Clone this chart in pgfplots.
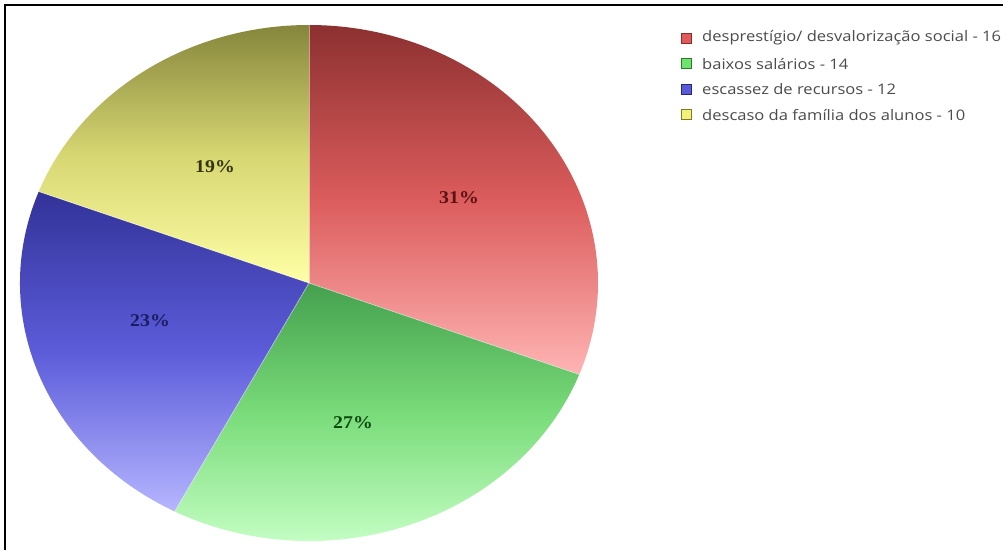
\documentclass[border=0pt]{standalone}
\usepackage{pgfplots}
\pgfplotsset{compat=1.18}
\usepackage{pgfplotstable}
\usepackage{fontspec}
\setmainfont{Liberation Serif}
\newfontfamily\legfont{Open Sans}

% pie data
\pgfplotstableread[col sep=comma]{
label,value
desprestígio/ desvalorização social,16
baixos salários,14
escassez de recursos,12
descaso da família dos alunos,10
}\piedata

\definecolor{top0}{HTML}{8C3030}\definecolor{mid0}{HTML}{DC5C5C}\definecolor{bot0}{HTML}{FFB4B4}
\definecolor{top1}{HTML}{44A04E}\definecolor{mid1}{HTML}{7ADC7A}\definecolor{bot1}{HTML}{C6FFC6}
\definecolor{top2}{HTML}{323298}\definecolor{mid2}{HTML}{5C5CDA}\definecolor{bot2}{HTML}{B6B6FF}
\definecolor{top3}{HTML}{86863C}\definecolor{mid3}{HTML}{D6D672}\definecolor{bot3}{HTML}{FFFFA6}
\definecolor{lab0}{HTML}{5A1212}\definecolor{lab1}{HTML}{0E4A0E}\definecolor{lab2}{HTML}{1C1C62}\definecolor{lab3}{HTML}{34340E}
\definecolor{sq0}{HTML}{E05A5A}\definecolor{sqb0}{HTML}{8A2A2A}
\definecolor{sq1}{HTML}{6EE46E}\definecolor{sqb1}{HTML}{2E7A2E}
\definecolor{sq2}{HTML}{5A5AD6}\definecolor{sqb2}{HTML}{262680}
\definecolor{sq3}{HTML}{F2F27A}\definecolor{sqb3}{HTML}{7A7A2A}

% cumulative angles (clockwise from 12 o'clock)
\xdef\total{0}
\pgfplotstablegetrowsof{\piedata}
\pgfmathtruncatemacro{\nrows}{\pgfplotsretval-1}
\foreach \i in {0,...,\nrows}{%
  \pgfplotstablegetelem{\i}{value}\of\piedata
  \pgfmathparse{\total+\pgfplotsretval}\xdef\total{\pgfmathresult}}
\xdef\cum{0}
\foreach \i in {0,...,\nrows}{%
  \pgfplotstablegetelem{\i}{value}\of\piedata
  \xdef\curval{\pgfplotsretval}%
  \pgfmathparse{90-360*(\cum/\total)}\expandafter\xdef\csname sa\i\endcsname{\pgfmathresult}%
  \pgfmathparse{\cum+\curval}\xdef\cum{\pgfmathresult}%
  \pgfmathparse{90-360*(\cum/\total)}\expandafter\xdef\csname ea\i\endcsname{\pgfmathresult}%
  \expandafter\xdef\csname vl\i\endcsname{\curval}%
  \pgfplotstablegetelem{\i}{label}\of\piedata
  \expandafter\xdef\csname lb\i\endcsname{\pgfplotsretval}}

\begin{document}
\begin{tikzpicture}
\clip (0,0) rectangle (1003pt,549pt);
\fill[white] (0,0) rectangle (1003pt,549pt);
\begin{axis}[
  scale only axis, width=1003pt, height=549pt,
  xmin=0, xmax=1003, ymin=0, ymax=549, y dir=reverse,
  axis lines=none, clip=false,
]
\pgfplotsinvokeforeach{0,1,2,3}{%
  \shade[top color=top#1, bottom color=bot#1, middle color=mid#1]
    (axis cs:309,283) -- ++(\csname sa#1\endcsname:289pt and 258pt)
    arc[start angle=\csname sa#1\endcsname, end angle=\csname ea#1\endcsname, x radius=289pt, y radius=258pt] -- cycle;
}
\pgfplotsinvokeforeach{0,1,2,3}{%
  \draw[white, draw opacity=0.5, line width=0.7pt]
    (axis cs:309,283) -- ++(\csname sa#1\endcsname:289pt and 258pt);
}
% percentage labels
\tikzset{pct/.style={font=\bfseries\fontsize{18}{18}\selectfont, xscale=1.1}}
\node[pct, text=lab0] at (axis cs:459,198) {31\%};
\node[pct, text=lab1] at (axis cs:353,423) {27\%};
\node[pct, text=lab2] at (axis cs:150,321) {23\%};
\node[pct, text=lab3] at (axis cs:215,167) {19\%};
% legend
\pgfplotsinvokeforeach{0,1,2,3}{%
  \draw[draw=sqb#1, fill=sq#1, line width=0.8pt]
    (axis cs:681,{33+25.6*#1}) rectangle (axis cs:691,{43+25.6*#1});
  \node[anchor=west, inner sep=0pt, xscale=1.14, text=black!70, font=\legfont\fontsize{14.5}{15}\selectfont]
    at (axis cs:702,{38+25.6*#1}) {\csname lb#1\endcsname{} - \csname vl#1\endcsname};
}
% frame
\draw[black, line width=2pt] (axis cs:5,560) -- (axis cs:5,5) -- (axis cs:1010,5);
\end{axis}
\end{tikzpicture}
\end{document}
